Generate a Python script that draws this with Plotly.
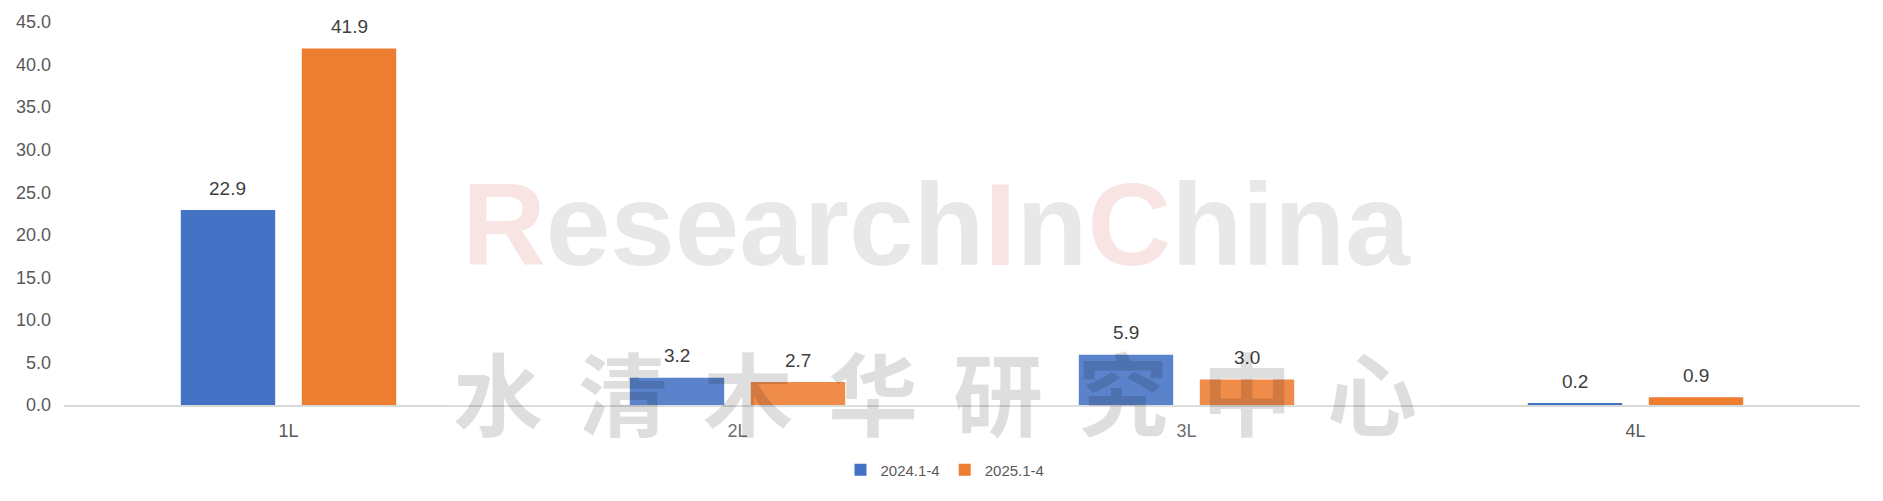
import plotly.graph_objects as go

# ---- data ----
categories = ["1L", "2L", "3L", "4L"]
series_names = ["2024.1-4", "2025.1-4"]
values_2024 = [22.9, 3.2, 5.9, 0.2]
values_2025 = [41.9, 2.7, 3.0, 0.9]
y_ticks = [0, 5, 10, 15, 20, 25, 30, 35, 40, 45]

colors = ["#4472C4", "#ED7D31"]

# the page body adds an 8px offset; size the figure to fit the window
OFF = 8
W, H = 1883 - OFF, 501 - OFF
# target plot area in window pixels: x 64..1860, y 22..405
ML = 64 - OFF
MT = 22 - OFF
MR = W - (1860 - OFF)
MB = H - (405 - OFF)
BARGAP = 0.461
BARGROUPGAP = 0.22

FONT = "Liberation Sans, Arial, sans-serif"

plot_w = W - ML - MR
plot_h = H - MT - MB


def px_x(px):
    # window pixel -> paper x
    return (px - OFF - ML) / plot_w


def px_y(py):
    # window pixel -> paper y
    return 1 - (py - OFF - MT) / plot_h


fig = go.Figure()
for name, vals, col in zip(series_names, [values_2024, values_2025], colors):
    fig.add_trace(go.Bar(
        x=categories, y=vals, name=name,
        marker=dict(color=col, line=dict(width=0)),
    ))

# data labels as annotations (offset to each bar's slot)
cat_w = plot_w / len(categories)
slot = (1 - BARGAP) * cat_w / 2
annotations = []
for i, vals in enumerate([values_2024, values_2025]):
    shift = (i - 0.5) * slot
    for c, v in zip(categories, vals):
        annotations.append(dict(
            x=c, y=v, xref="x", yref="y", text=f"{v:.1f}",
            showarrow=False, xshift=shift, yshift=22, yanchor="middle",
            font=dict(family=FONT, size=19, color="#404040"),
        ))

# watermark: ResearchInChina
pink = "#f9e4e4"
gray = "#e8e8e8"
wm = (f"<span style='color:{pink}'>R</span>esearch"
      f"<span style='color:{pink}'>I</span>n"
      f"<span style='color:{pink}'>C</span>hina")
annotations.append(dict(
    x=px_x((461 + 1411) / 2), y=px_y(292), xref="paper", yref="paper",
    xanchor="center", yanchor="bottom",
    text=wm, showarrow=False,
    font=dict(family=FONT, size=116, color=gray, weight="bold"),
))

# watermark: Chinese characters
cn_chars = list("水清木华研究中心")
for k, ch in enumerate(cn_chars):
    cx = 498 + k * 124.9
    annotations.append(dict(
        x=px_x(cx), y=px_y(390),
        xref="paper", yref="paper", xanchor="center", yanchor="middle",
        text=ch, showarrow=False,
        font=dict(family="Noto Sans CJK SC", size=90, color="rgba(0,0,0,0.13)", weight="bold"),
    ))

fig.add_shape(type="rect", xref="paper", yref="paper",
              x0=px_x(445), x1=px_x(1440), y0=px_y(445), y1=px_y(340),
              fillcolor="rgba(255,255,255,0.12)", line=dict(width=0), layer="above")

fig.update_layout(
    width=W, height=H,
    margin=dict(l=ML, r=MR, t=MT, b=MB, pad=0, autoexpand=False),
    paper_bgcolor="white", plot_bgcolor="white",
    barmode="group", bargap=BARGAP, bargroupgap=BARGROUPGAP,
    font=dict(family=FONT, color="#595959"),
    showlegend=True,
    legend=dict(
        orientation="h", xref="paper", yref="paper",
        x=px_x(945), xanchor="center", y=px_y(470), yanchor="middle",
        font=dict(family=FONT, size=15, color="#595959"),
        itemwidth=30, traceorder="normal",
    ),
    annotations=annotations,
    xaxis=dict(
        showline=True, linecolor="#d9d9d9", linewidth=2,
        showgrid=False, zeroline=False, ticks="",
        tickfont=dict(family=FONT, size=18, color="#595959"),
        ticklabelstandoff=8, automargin=False,
    ),
    yaxis=dict(
        range=[0, 45], tickvals=y_ticks, tickformat=".1f",
        showgrid=False, zeroline=False, showline=False, ticks="",
        tickfont=dict(family=FONT, size=18, color="#595959"),
        ticklabelstandoff=12, automargin=False,
    ),
)

fig.write_html("out.html")
